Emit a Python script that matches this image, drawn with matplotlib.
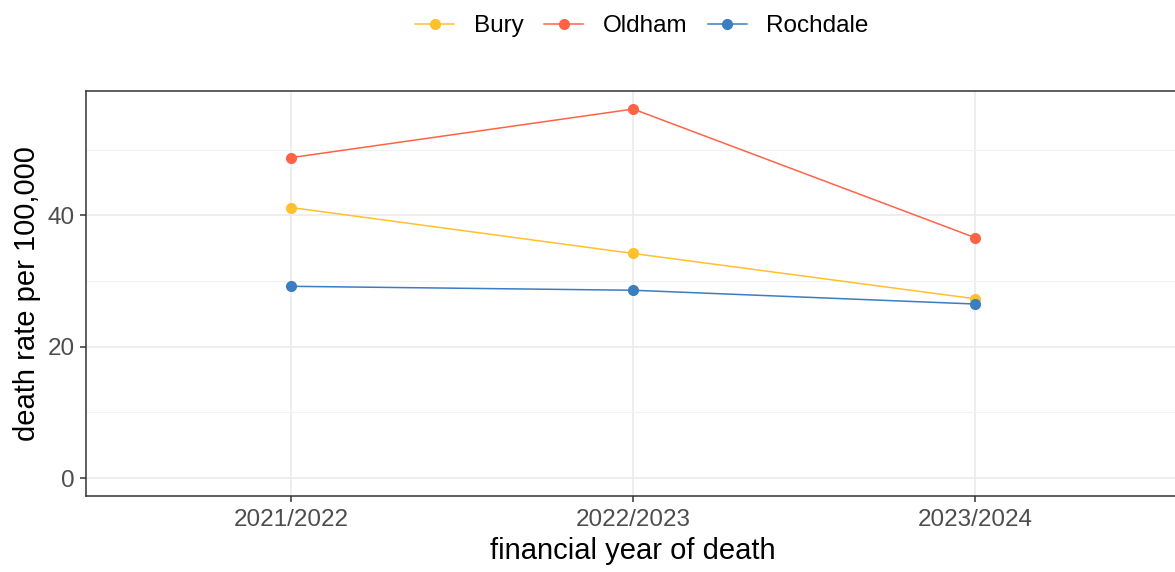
import numpy as np
import matplotlib.pyplot as plt
from matplotlib.ticker import MultipleLocator

plt.rcParams['font.family'] = ['Liberation Sans', 'DejaVu Sans']

# financial years and death rates per 100,000
years = ['2021/2022', '2022/2023', '2023/2024']
bury = [41.2, 34.2, 27.3]
oldham = [48.8, 56.2, 36.6]
rochdale = [29.2, 28.6, 26.5]

areas = ['Bury', 'Oldham', 'Rochdale']
colours = ['#FFC02E', '#FF6347', '#3A7DC0']

W, H = 1175, 572
fig = plt.figure(figsize=(W / 100, H / 100), dpi=100)
# panel runs a bit past the right edge, like the reference
ax = fig.add_axes([86 / W, 1 - 496 / H, (1180.5 - 86) / W, (496 - 91) / H])

x = np.arange(1, len(years) + 1)
for name, vals, col in zip(areas, [bury, oldham, rochdale], colours):
    ax.plot(x, vals, color=col, lw=1.1, marker='o', ms=7, label=name, zorder=3)

ax.set_xlim(0.4, 3.6)
ax.set_ylim(-2.74, 58.95)
ax.set_xticks(x)
ax.set_xticklabels(years)
ax.yaxis.set_major_locator(MultipleLocator(20))
ax.yaxis.set_minor_locator(MultipleLocator(10))

ax.grid(which='major', color='#EBEBEB', lw=1.2)
ax.grid(which='minor', axis='y', color='#F2F2F2', lw=0.8)
ax.set_axisbelow(True)
for s in ax.spines.values():
    s.set_color('#333333')
    s.set_linewidth(1.1)

ax.tick_params(which='major', length=4, width=1.1, color='#333333',
               labelsize=17.5, labelcolor='#4D4D4D', pad=5)
ax.tick_params(axis='y', pad=4)
ax.tick_params(which='minor', length=0)

ax.set_xlabel('financial year of death', fontsize=21, color='black', labelpad=5)
ax.set_ylabel('death rate per 100,000', fontsize=21, color='black', labelpad=5)

handles, labels = ax.get_legend_handles_labels()
fig.legend(handles, labels, loc='center', bbox_to_anchor=(642 / W, 1 - 26 / H),
           ncol=3, frameon=False, fontsize=17.5, handlelength=1.6,
           handletextpad=0.8, columnspacing=0.85)

fig.savefig('out.png', dpi=100)
